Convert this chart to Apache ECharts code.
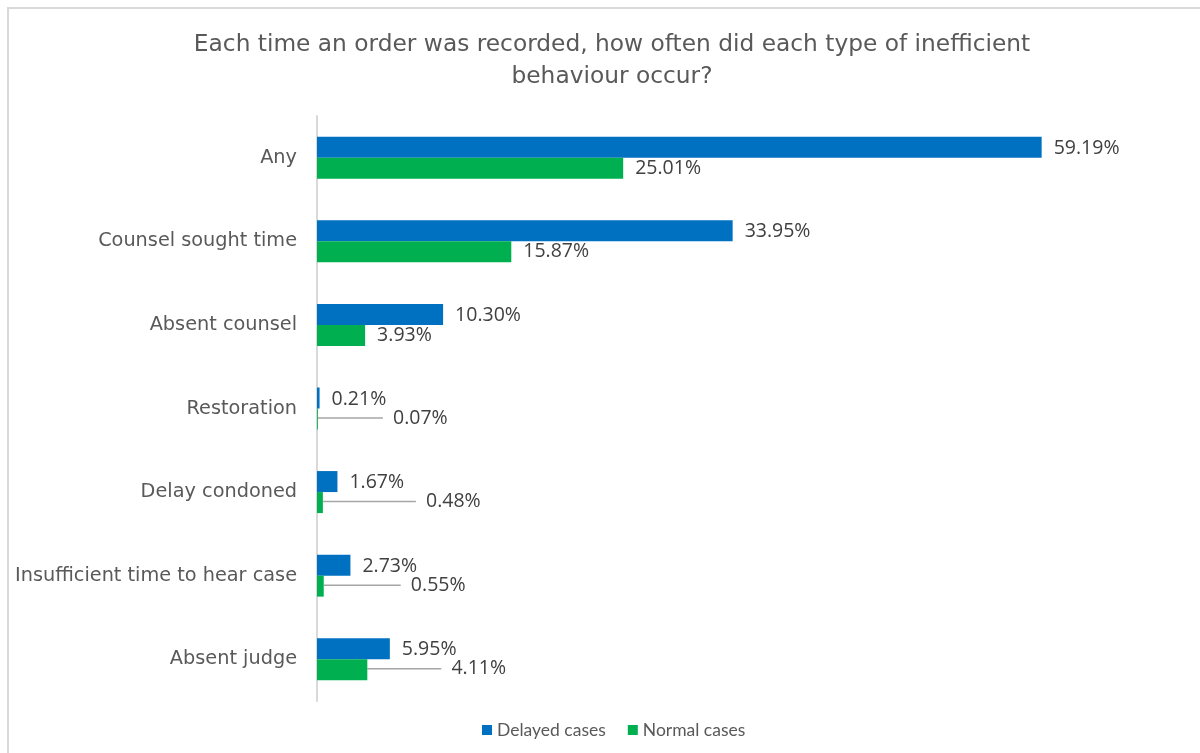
<!DOCTYPE html>
<html>
<head>
<meta charset="utf-8">
<script src="https://cdn.jsdelivr.net/npm/echarts@6/dist/echarts.min.js"></script>
<style>
  html, body { margin: 0; padding: 0; background: #fff; }
  #chart { width: 1200px; height: 753px; }
</style>
</head>
<body>
<div id="chart"></div>
<script>
// Behaviour types, top to bottom
const categories = [
  'Any',
  'Counsel sought time',
  'Absent counsel',
  'Restoration',
  'Delay condoned',
  'Insufficient time to hear case',
  'Absent judge'
];
// Share of recorded orders showing each behaviour (%)
const delayedCases = [59.19, 33.95, 10.30, 0.21, 1.67, 2.73, 5.95];
const normalCases  = [25.01, 15.87, 3.93, 0.07, 0.48, 0.55, 4.11];
const seriesNames = ['Delayed cases', 'Normal cases'];

// Labels that are pushed right (px) to clear the neighbouring label, with a leader line
const normalLabelShift = { 3: 53, 4: 81, 5: 65, 6: 62 };

const BLUE = '#0070C0';
const GREEN = '#00B050';
const TEXT = '#595959';
const LABEL_FONT = '"Open Sans", "Noto Sans", sans-serif';
const CAT_FONT = '"DejaVu Sans", sans-serif';

const chart = echarts.init(document.getElementById('chart'));

const pct = v => v.toFixed(2) + '%';

const normalData = normalCases.map((v, i) => {
  const item = { value: v };
  if (normalLabelShift[i] !== undefined) {
    item.labelLine = { show: true, lineStyle: { color: '#a6a6a6', width: 1.5 } };
  }
  return item;
});

const valueLabel = {
  show: true,
  position: 'right',
  distance: 12,
  offset: [0, 1],
  formatter: p => pct(p.value),
  fontFamily: LABEL_FONT,
  fontSize: 19.5,
  color: '#404040'
};

chart.setOption({
  animation: false,
  backgroundColor: '#fff',
  graphic: [{
    type: 'rect',
    shape: { x: 8, y: 8, width: 1400, height: 900 },
    style: { fill: 'none', stroke: '#d9d9d9', lineWidth: 2 },
    silent: true,
    z: -1
  }],
  title: {
    text: 'Each time an order was recorded, how often did each type of inefficient\nbehaviour occur?',
    left: 607,
    top: 24,
    textAlign: 'center',
    textStyle: {
      fontFamily: CAT_FONT,
      fontSize: 23.3,
      fontWeight: 'normal',
      color: TEXT,
      lineHeight: 32,
      align: 'center'
    }
  },
  legend: {
    data: seriesNames,
    bottom: 9,
    left: 477,
    icon: 'rect',
    itemWidth: 10,
    itemHeight: 10,
    itemGap: 22,
    textStyle: { fontFamily: 'Lato, "Liberation Sans", sans-serif', fontSize: 17.5, color: TEXT }
  },
  grid: { left: 317, top: 116, height: 585, width: 857, containLabel: false },
  xAxis: {
    type: 'value',
    min: 0,
    max: 70,
    show: false
  },
  yAxis: {
    type: 'category',
    data: categories,
    inverse: true,
    axisLine: { show: true, lineStyle: { color: '#d9d9d9', width: 2 } },
    axisTick: { show: false },
    axisLabel: {
      fontFamily: CAT_FONT,
      fontSize: 19.3,
      color: TEXT,
      margin: 20
    }
  },
  series: [
    {
      name: seriesNames[0],
      type: 'bar',
      data: delayedCases,
      barWidth: 21,
      barGap: '0%',
      itemStyle: { color: BLUE },
      label: valueLabel
    },
    {
      name: seriesNames[1],
      type: 'bar',
      data: normalData,
      barWidth: 21,
      barGap: '0%',
      itemStyle: { color: GREEN },
      label: Object.assign({}, valueLabel, {
        // leading spaces keep a small gap between leader line and text
        formatter: p => (normalLabelShift[p.dataIndex] !== undefined ? '  ' : '') + pct(p.value)
      }),
      labelLine: { show: false },
      labelLayout: params => {
        const s = normalLabelShift[params.dataIndex];
        return s !== undefined ? { dx: s, dy: -1 } : {};
      }
    }
  ]
});
</script>
</body>
</html>
